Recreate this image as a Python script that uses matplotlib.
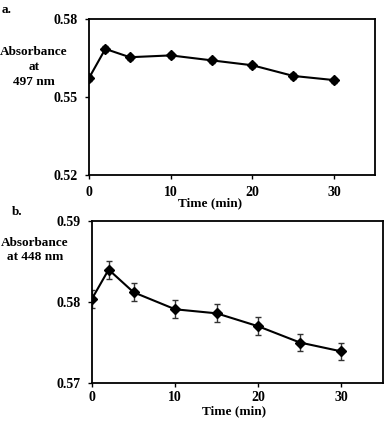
import numpy as np
import matplotlib.pyplot as plt

plt.rcParams['font.family'] = ['Liberation Serif', 'DejaVu Serif']
plt.rcParams['font.weight'] = 'bold'

time_min = [0, 2, 5, 10, 15, 20, 25, 30]
abs_497 = [0.5573, 0.5685, 0.5653, 0.5660, 0.5641, 0.5622, 0.5581, 0.5565]
err_497 = [0.0010, 0.0010, 0.0010, 0.0010, 0.0010, 0.0010, 0.0010, 0.0010]
abs_448 = [0.5804, 0.5840, 0.5812, 0.5791, 0.5786, 0.5770, 0.5750, 0.5739]
err_448 = [0.0011, 0.0011, 0.0011, 0.0011, 0.0011, 0.0011, 0.0011, 0.0011]

fig = plt.figure(figsize=(3.9, 4.21), dpi=100)
W, H = 390, 421

def panel(left, top, right, bottom, y, err, ylim, yticks, ylab, ylab_xy, letter, letter_xy, xlab_xy, pad):
    ax = fig.add_axes([left / W, 1 - bottom / H, (right - left) / W, (bottom - top) / H])
    ax.errorbar(time_min, y, yerr=err, color='black', ecolor='#333333', elinewidth=1,
                capsize=2.5, capthick=1, marker='D', markersize=5, linewidth=1.5)
    ax.set_xlim(0, 35)
    ax.set_ylim(*ylim)
    ax.set_xticks([0, 10, 20, 30])
    ax.set_yticks(yticks)
    ax.set_yticklabels(['%.2f' % v for v in yticks])
    ax.tick_params(direction='out', length=3, width=1, labelsize=10, pad=5)
    ax.tick_params(axis='x', pad=pad)
    for s in ax.spines.values():
        s.set_linewidth(1.3)
    fig.text(ylab_xy[0] / W, 1 - ylab_xy[1] / H, ylab, ha='center', va='center',
             fontsize=9.5, fontweight='bold', linespacing=1.3)
    fig.text(letter_xy[0] / W, 1 - letter_xy[1] / H, letter, ha='left', va='center',
             fontsize=9.5, fontweight='bold')
    fig.text(xlab_xy[0] / W, 1 - xlab_xy[1] / H, 'Time (min)', ha='center', va='center',
             fontsize=9.5, fontweight='bold')
    return ax

panel(89, 19, 375, 175, abs_497, err_497, (0.52, 0.58), [0.52, 0.55, 0.58],
      'Absorbance\nat\n497 nm', (34, 67), 'a.', (2, 10), (210, 203), 5)
panel(92, 221, 383, 383, abs_448, err_448, (0.57, 0.59), [0.57, 0.58, 0.59],
      'Absorbance\nat 448 nm', (35, 250), 'b.', (12, 212), (234, 411), 3)

fig.savefig('out.png', dpi=100)
